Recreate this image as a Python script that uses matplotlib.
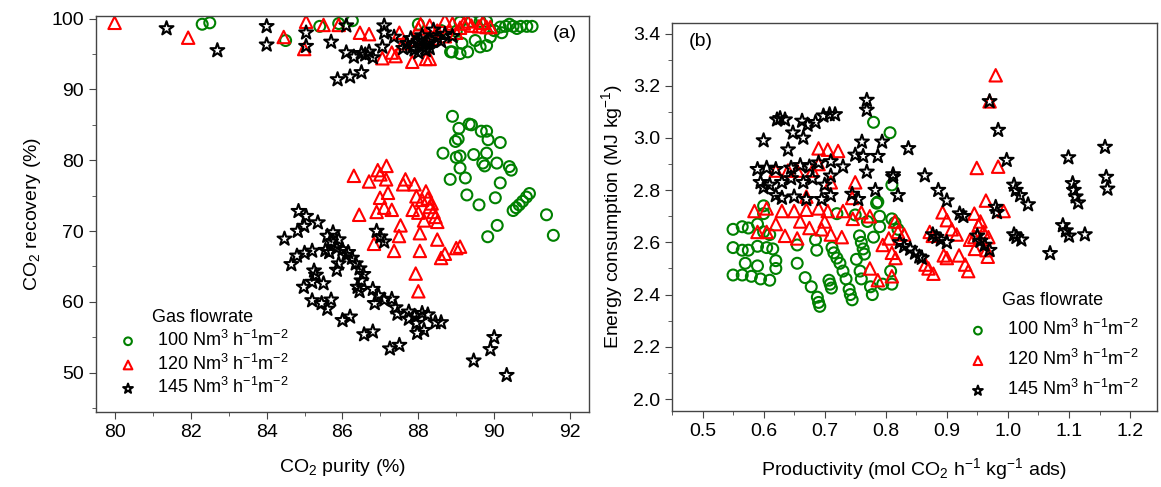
import matplotlib
matplotlib.use('Agg')
import matplotlib.pyplot as plt
from matplotlib.ticker import MultipleLocator

plt.rcParams['font.family'] = ['Liberation Sans', 'DejaVu Sans']
plt.rcParams['mathtext.fontset'] = 'custom'
plt.rcParams['mathtext.rm'] = 'Liberation Sans'
plt.rcParams['mathtext.default'] = 'regular'

# ---- panel (a): CO2 purity vs CO2 recovery ----
a_green = [(82.3, 99.2), (82.5, 99.4), (84.5, 96.9), (85.4, 98.9), (85.9, 99.3), (86.26, 99.7), (88.0, 99.2),
           (88.85, 95.3), (88.89, 95.3), (89.1, 95.05), (89.3, 95.3), (89.63, 96.0), (89.8, 96.2), (89.9, 97.4),
           (90.0, 98.3), (90.16, 98.8), (90.3, 98.9), (90.5, 98.9), (90.7, 98.9), (90.86, 98.9), (91.0, 98.9),
           (89.1, 99.5), (89.4, 99.6), (89.63, 99.6), (89.8, 99.6), (89.15, 96.5), (89.5, 96.9), (90.2, 98.0),
           (90.6, 98.6), (89.0, 98.2), (88.6, 98.3), (90.4, 99.2),
           (88.9, 86.2), (89.07, 84.5), (89.34, 85.1), (89.4, 85.0), (89.66, 84.1), (89.8, 84.1), (89.84, 82.9),
           (90.16, 82.5), (88.98, 82.65), (89.05, 83.0), (88.65, 81.0), (89.0, 80.4), (89.1, 80.6), (89.46, 80.8),
           (89.8, 81.0), (89.7, 79.6), (89.75, 79.2), (90.07, 79.6), (90.4, 79.1), (90.45, 78.6), (89.1, 78.9),
           (88.84, 77.3), (89.24, 77.5), (90.16, 76.8), (89.28, 75.1), (89.6, 73.7), (90.03, 74.7), (90.5, 72.9),
           (90.58, 73.3), (90.66, 73.7), (90.75, 74.2), (90.85, 74.8), (90.93, 75.3), (91.38, 72.3), (91.56, 69.4),
           (90.08, 70.8), (89.83, 69.2)]
a_red = [(79.99, 99.4), (81.93, 97.3), (85.04, 99.55), (84.45, 97.4), (84.99, 95.7), (85.5, 99.1), (85.9, 99.1),
         (86.46, 98.0), (86.7, 97.8), (87.05, 94.4), (87.4, 94.7), (87.5, 98.0), (87.84, 93.9), (88.06, 99.2),
         (88.2, 94.3), (88.3, 94.3), (88.7, 99.7), (88.9, 99.3), (89.1, 98.7), (89.2, 99.3), (89.4, 99.0),
         (89.6, 98.9), (89.8, 98.8), (89.9, 98.8), (88.5, 98.3), (88.0, 98.6), (88.3, 99.0), (89.0, 98.0),
         (88.7, 97.5), (88.4, 97.2), (87.9, 97.0), (87.6, 96.5), (87.3, 95.2), (89.3, 99.6), (89.7, 99.4),
         (86.3, 77.8), (86.44, 72.3), (86.7, 77.0), (86.93, 78.6), (87.16, 79.2), (87.0, 78.0), (87.15, 77.3),
         (87.2, 75.4), (86.99, 74.7), (86.9, 72.7), (87.1, 73.3), (87.3, 73.0), (87.53, 70.8), (87.49, 69.3),
         (86.83, 68.2), (87.36, 67.2), (87.66, 77.3), (87.6, 76.6), (87.9, 76.6), (87.95, 74.9), (88.1, 74.4),
         (88.25, 74.6), (87.85, 73.0), (88.0, 72.6), (88.3, 73.4), (88.4, 72.7), (88.45, 72.0), (88.5, 71.3),
         (88.04, 69.7), (88.5, 68.8), (88.04, 67.2), (88.6, 66.2), (88.7, 66.8), (89.0, 67.6), (89.1, 67.8),
         (87.93, 64.0), (88.0, 61.5), (88.2, 75.6), (88.35, 73.9), (88.15, 71.5)]
a_black = [(81.36, 98.6), (82.7, 95.5), (84.0, 98.9), (84.0, 96.3), (85.04, 98.0), (85.04, 96.1), (85.7, 96.7),
           (86.1, 99.0), (86.1, 95.2), (86.3, 94.6), (86.5, 95.1), (86.7, 95.3), (86.8, 94.5), (86.6, 94.9),
           (85.87, 91.4), (86.2, 91.8), (86.5, 92.4), (87.05, 96.0), (87.1, 99.0), (87.1, 98.0), (87.36, 97.4),
           (87.7, 96.5), (87.8, 97.2), (87.9, 95.6), (88.0, 96.8), (88.0, 95.2), (88.1, 97.6), (88.1, 96.0),
           (88.2, 96.4), (88.2, 95.5), (88.3, 97.0), (88.3, 95.8), (88.4, 98.4), (88.5, 97.3), (88.6, 96.8),
           (88.7, 97.8), (88.9, 97.5), (87.6, 95.8), (87.85, 96.0), (88.05, 97.0), (88.25, 96.7),
           (84.84, 72.8), (85.04, 72.1), (85.35, 71.2), (84.99, 70.7), (84.82, 70.0), (84.47, 68.9), (84.65, 65.3),
           (84.8, 66.5), (85.0, 66.9), (85.2, 67.2), (85.25, 64.4), (85.3, 63.8), (84.98, 62.1), (85.2, 62.8),
           (85.5, 62.6), (85.2, 60.2), (85.45, 59.8), (85.6, 59.0), (85.7, 60.3), (86.0, 57.4), (86.2, 57.9),
           (86.57, 55.4), (86.8, 55.8), (87.25, 53.4), (87.5, 53.9), (87.97, 55.6), (88.15, 56.0), (88.45, 57.1),
           (88.6, 57.1), (88.1, 58.4), (88.25, 58.2), (87.9, 58.0), (87.75, 58.6), (89.46, 51.7), (89.9, 53.3),
           (90.0, 55.0), (90.33, 49.65), (85.6, 69.3), (85.75, 69.8), (85.7, 68.5), (85.85, 67.6), (85.65, 67.0),
           (85.55, 67.3), (85.9, 65.4), (85.85, 64.5), (86.0, 67.4), (86.15, 67.0), (86.25, 66.2), (86.35, 65.4),
           (86.45, 64.7), (86.55, 63.9), (86.5, 63.0), (86.4, 62.1), (86.45, 61.5), (86.8, 61.8), (86.95, 60.9),
           (86.85, 59.8), (87.1, 60.3), (87.3, 60.4), (87.4, 59.2), (87.45, 58.3), (87.75, 57.6), (87.95, 57.0),
           (86.9, 70.0), (87.0, 69.2), (87.1, 68.5), (85.9, 68.8), (86.1, 66.6)]

# ---- panel (b): productivity vs energy consumption ----
b_green = [(0.78, 3.06), (0.807, 3.02), (0.60, 2.74), (0.60, 2.71), (0.55, 2.65), (0.565, 2.66), (0.575, 2.655),
           (0.59, 2.67), (0.60, 2.64), (0.61, 2.63), (0.55, 2.58), (0.565, 2.57), (0.575, 2.57), (0.59, 2.585),
           (0.605, 2.58), (0.615, 2.575), (0.55, 2.475), (0.565, 2.475), (0.58, 2.47), (0.595, 2.46), (0.61, 2.455),
           (0.62, 2.50), (0.57, 2.52), (0.59, 2.51), (0.62, 2.53), (0.655, 2.59), (0.685, 2.61), (0.687, 2.57),
           (0.655, 2.52), (0.668, 2.465), (0.678, 2.43), (0.688, 2.39), (0.69, 2.37), (0.692, 2.355), (0.707, 2.455),
           (0.709, 2.44), (0.711, 2.425), (0.712, 2.58), (0.715, 2.56), (0.72, 2.54), (0.725, 2.52), (0.73, 2.49),
           (0.735, 2.46), (0.74, 2.42), (0.742, 2.40), (0.745, 2.38), (0.75, 2.705), (0.757, 2.625), (0.76, 2.60),
           (0.763, 2.575), (0.765, 2.555), (0.752, 2.535), (0.758, 2.49), (0.76, 2.46), (0.775, 2.43), (0.778, 2.40),
           (0.785, 2.75), (0.79, 2.66), (0.795, 2.44), (0.81, 2.69), (0.815, 2.675), (0.81, 2.82), (0.787, 2.755),
           (0.82, 2.65), (0.808, 2.49), (0.81, 2.44), (0.79, 2.70), (0.77, 2.68), (0.72, 2.71), (0.78, 2.62)]
b_red = [(0.98, 3.24), (0.97, 3.14), (0.949, 2.885), (0.984, 2.89), (0.964, 2.76), (0.993, 2.72), (0.945, 2.71),
         (0.955, 2.68), (0.952, 2.665), (0.96, 2.64), (0.968, 2.62), (0.945, 2.62), (0.938, 2.61), (0.946, 2.575),
         (0.965, 2.57), (0.967, 2.545), (0.893, 2.715), (0.9, 2.685), (0.908, 2.65), (0.916, 2.63), (0.872, 2.64),
         (0.877, 2.625), (0.895, 2.55), (0.9, 2.54), (0.92, 2.55), (0.93, 2.515), (0.935, 2.49), (0.865, 2.515),
         (0.87, 2.5), (0.878, 2.48), (0.815, 2.68), (0.82, 2.64), (0.83, 2.63), (0.805, 2.615), (0.81, 2.56),
         (0.816, 2.54), (0.795, 2.59), (0.81, 2.47), (0.69, 2.96), (0.705, 2.955), (0.722, 2.95), (0.69, 2.90),
         (0.62, 2.875), (0.64, 2.875), (0.655, 2.875), (0.68, 2.875), (0.71, 2.83), (0.75, 2.83), (0.67, 2.775),
         (0.745, 2.77), (0.585, 2.72), (0.605, 2.73), (0.63, 2.72), (0.65, 2.72), (0.67, 2.725), (0.69, 2.73),
         (0.705, 2.72), (0.76, 2.715), (0.59, 2.64), (0.605, 2.64), (0.62, 2.67), (0.635, 2.625), (0.655, 2.615),
         (0.66, 2.68), (0.675, 2.655), (0.695, 2.65), (0.70, 2.68), (0.71, 2.63), (0.728, 2.62), (0.746, 2.69),
         (0.774, 2.70), (0.774, 2.5), (0.787, 2.455), (0.73, 2.72)]
b_black = [(0.769, 3.145), (0.769, 3.107), (0.622, 3.07), (0.627, 3.075), (0.635, 3.07), (0.663, 3.065),
           (0.672, 3.05), (0.685, 3.06), (0.698, 3.085), (0.708, 3.09), (0.717, 3.09), (0.648, 3.02), (0.665, 3.0),
           (0.60, 2.99), (0.64, 2.955), (0.761, 2.985), (0.794, 2.985), (0.75, 2.935), (0.763, 2.93), (0.787, 2.93),
           (0.59, 2.88), (0.605, 2.885), (0.62, 2.88), (0.645, 2.885), (0.66, 2.895), (0.675, 2.89), (0.69, 2.905),
           (0.71, 2.91), (0.73, 2.89), (0.769, 2.87), (0.812, 2.86), (0.595, 2.83), (0.61, 2.82), (0.63, 2.83),
           (0.645, 2.845), (0.665, 2.83), (0.68, 2.845), (0.70, 2.82), (0.71, 2.855), (0.783, 2.80), (0.82, 2.78),
           (0.63, 2.77), (0.65, 2.775), (0.67, 2.765), (0.695, 2.765), (0.71, 2.78), (0.745, 2.785), (0.755, 2.765),
           (0.60, 2.81), (0.62, 2.78), (0.837, 2.96), (0.864, 2.856), (0.886, 2.80), (0.9, 2.76), (0.812, 2.85),
           (0.823, 2.60), (0.83, 2.585), (0.84, 2.575), (0.848, 2.56), (0.855, 2.545), (0.859, 2.54), (0.877, 2.63),
           (0.883, 2.62), (0.89, 2.61), (0.9, 2.60), (0.921, 2.71), (0.927, 2.70), (0.95, 2.625), (0.955, 2.605),
           (0.962, 2.59), (0.97, 2.57), (0.98, 2.735), (0.982, 2.715), (0.97, 3.14), (0.984, 3.03), (0.998, 2.915),
           (1.01, 2.82), (1.013, 2.80), (1.02, 2.78), (1.033, 2.745), (1.01, 2.63), (1.014, 2.62), (1.022, 2.61),
           (1.099, 2.925), (1.106, 2.826), (1.108, 2.80), (1.111, 2.775), (1.115, 2.752), (1.159, 2.965),
           (1.161, 2.85), (1.163, 2.805), (1.09, 2.665), (1.095, 2.645), (1.10, 2.625), (1.126, 2.63), (1.069, 2.558)]

labels = [r'100 Nm$^{3}$ h$^{-1}$m$^{-2}$', r'120 Nm$^{3}$ h$^{-1}$m$^{-2}$', r'145 Nm$^{3}$ h$^{-1}$m$^{-2}$']
styles = [('o', '#008000', 62), ('^', '#ff0000', 80), ('*', 'black', 110)]

fig = plt.figure(figsize=(11.61, 4.87), dpi=100)
ax1 = fig.add_axes([0.0827, 0.1546, 0.4246, 0.8131])
ax2 = fig.add_axes([0.5788, 0.156, 0.4177, 0.7977])


def draw(ax, series):
    for pts, lab, (m, c, s) in zip(series, labels, styles):
        xs = [p[0] for p in pts]
        ys = [p[1] for p in pts]
        ax.scatter(xs, ys, marker=m, s=s, facecolors='none', edgecolors=c, linewidths=1.5, label=lab)
    for sp in ax.spines.values():
        sp.set_color('#444444')
        sp.set_linewidth(1.0)
    ax.tick_params(which='both', direction='out', top=False, right=False, labelsize=14, color='#444444')
    ax.tick_params(which='major', length=5)
    ax.tick_params(which='minor', length=3)


draw(ax1, [a_green, a_red, a_black])
ax1.set_xlim(79.5, 92.5)
ax1.set_ylim(44.5, 100.4)
ax1.xaxis.set_major_locator(MultipleLocator(2))
ax1.xaxis.set_minor_locator(MultipleLocator(1))
ax1.yaxis.set_major_locator(MultipleLocator(10))
ax1.yaxis.set_minor_locator(MultipleLocator(5))
ax1.set_xlabel(r'CO$_2$ purity (%)', fontsize=14, labelpad=12)
ax1.set_ylabel(r'CO$_2$ recovery (%)', fontsize=14, labelpad=6)
ax1.text(0.95, 0.955, '(a)', transform=ax1.transAxes, fontsize=14, ha='center', va='center')
ax1.legend(title='Gas flowrate', loc='lower left', bbox_to_anchor=(0.01, -0.005), frameon=False,
           fontsize=13, title_fontsize=13, markerscale=0.7, handlelength=1.2, handletextpad=1.0,
           labelspacing=0.2)

draw(ax2, [b_green, b_red, b_black])
ax2.set_xlim(0.45, 1.244)
ax2.set_ylim(1.954, 3.442)
ax2.xaxis.set_major_locator(MultipleLocator(0.1))
ax2.xaxis.set_minor_locator(MultipleLocator(0.05))
ax2.yaxis.set_major_locator(MultipleLocator(0.2))
ax2.yaxis.set_minor_locator(MultipleLocator(0.1))
ax2.set_xlabel(r'Productivity (mol CO$_2$ h$^{-1}$ kg$^{-1}$ ads)', fontsize=14, labelpad=12)
ax2.set_ylabel(r'Energy consumption (MJ kg$^{-1}$)', fontsize=14, labelpad=6)
ax2.text(0.06, 0.95, '(b)', transform=ax2.transAxes, fontsize=14, ha='center', va='center')
ax2.legend(title='Gas flowrate', loc='lower left', bbox_to_anchor=(0.575, -0.012), frameon=False,
           fontsize=13, title_fontsize=13, markerscale=0.7, handlelength=1.2, handletextpad=1.0,
           labelspacing=0.55)

fig.savefig('out.png', dpi=100)
